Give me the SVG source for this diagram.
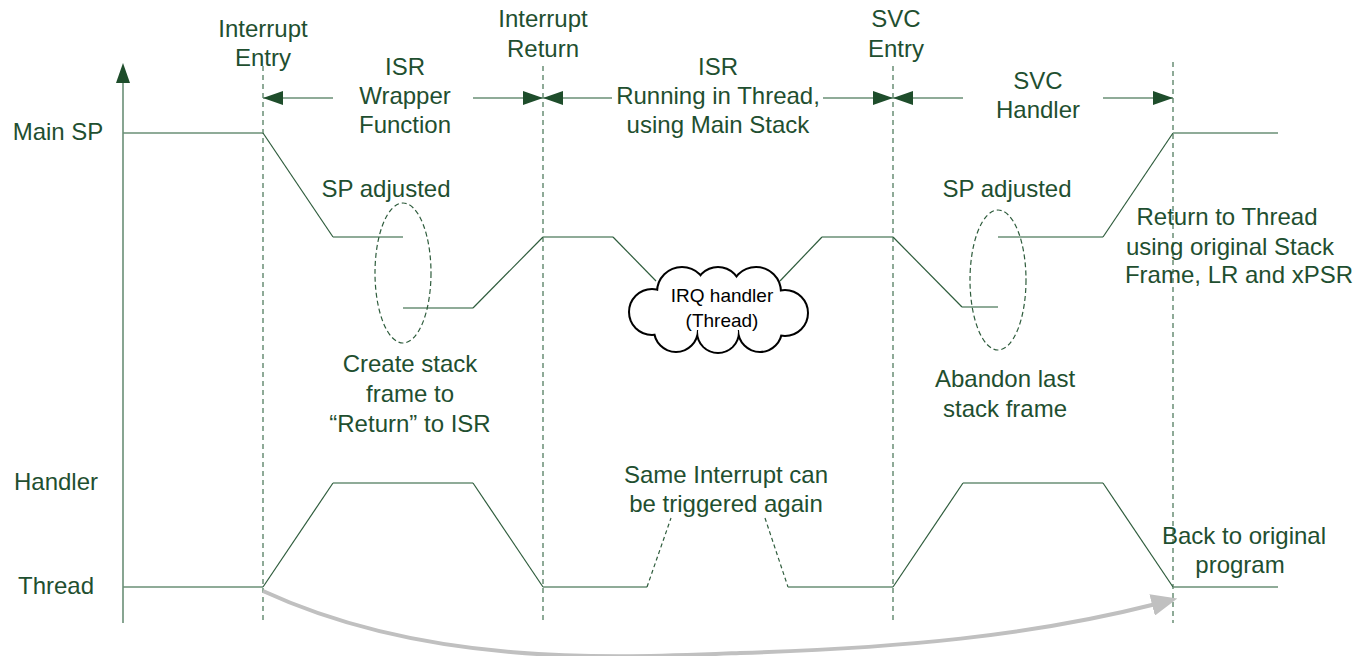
<svg xmlns="http://www.w3.org/2000/svg" width="1365" height="656" viewBox="0 0 1365 656">
<style>
text{font-family:"Liberation Sans",Arial,sans-serif;font-size:24px;fill:#1f4f30;text-anchor:middle}
.small{font-size:19px;fill:#000}
.h{stroke:#6a8f76;stroke-width:1.6;fill:none}
.d{stroke:#2e5c3c;stroke-width:1.2;fill:none}
.vd{stroke:#6a8f76;stroke-width:1.5;stroke-dasharray:5 4;fill:none}
.dd{stroke:#2e5c3c;stroke-width:1.2;stroke-dasharray:4 3;fill:none}
.ell{stroke:#2e5c3c;stroke-width:1.2;stroke-dasharray:5 3;fill:none}
.arr{stroke:#6a8f76;stroke-width:1.6;fill:none;marker-end:url(#ah)}
</style>
<defs>
<marker id="ah" markerUnits="userSpaceOnUse" markerWidth="20" markerHeight="14" refX="20" refY="7" orient="auto"><path d="M0,0 L20,7 L0,14 z" fill="#1e4d2b"/></marker>
<marker id="gh" markerUnits="userSpaceOnUse" markerWidth="26" markerHeight="22" refX="4" refY="11" orient="auto"><path d="M0,0 L26,11 L0,22 z" fill="#c0c0c0"/></marker>
</defs>
<rect width="1365" height="656" fill="#fff"/>

<g id="axis">
<line x1="123" y1="80" x2="123" y2="623" class="h"/>
<path d="M116,83 L123,63 L130,83 z" fill="#1e4d2b"/>
<text x="58" y="140">Main SP</text>
<text x="56" y="490">Handler</text>
<text x="56" y="594">Thread</text>
</g>

<g id="markers">
<line x1="263" y1="66" x2="263" y2="623" class="vd"/>
<line x1="543" y1="66" x2="543" y2="623" class="vd"/>
<line x1="893" y1="66" x2="893" y2="623" class="vd"/>
<line x1="1173" y1="62" x2="1173" y2="623" class="vd"/>
</g>

<g id="interrupt-entry"><text x="263" y="37">Interrupt</text><text x="263" y="66">Entry</text></g>
<g id="interrupt-return"><text x="543" y="27">Interrupt</text><text x="543" y="57">Return</text></g>
<g id="svc-entry"><text x="896" y="27">SVC</text><text x="896" y="57">Entry</text></g>
<g id="isr-wrapper"><text x="405" y="75">ISR</text><text x="405" y="104">Wrapper</text><text x="405" y="133">Function</text></g>
<g id="isr-thread"><text x="718" y="75">ISR</text><text x="718" y="104">Running in Thread,</text><text x="718" y="133">using Main Stack</text></g>
<g id="svc-handler"><text x="1038" y="89">SVC</text><text x="1038" y="118">Handler</text></g>

<g id="connectors">
<line x1="333" y1="98" x2="263" y2="98" class="arr"/>
<line x1="473" y1="98" x2="543" y2="98" class="arr"/>
<line x1="612" y1="98" x2="543" y2="98" class="arr"/>
<line x1="823" y1="98" x2="893" y2="98" class="arr"/>
<line x1="963" y1="98" x2="893" y2="98" class="arr"/>
<line x1="1103" y1="98" x2="1173" y2="98" class="arr"/>
<path d="M263,591 C430,668 620,658 740,653 C900,648 1030,636 1156,604" stroke="#c0c0c0" stroke-width="4" fill="none" marker-end="url(#gh)"/>
</g>

<g id="main-sp-trace">
<line x1="123" y1="133" x2="263" y2="133" class="h"/>
<line x1="263" y1="133" x2="333" y2="237" class="d"/>
<line x1="333" y1="237" x2="403" y2="237" class="h"/>
<line x1="403" y1="308" x2="473" y2="308" class="h"/>
<line x1="473" y1="308" x2="543" y2="237" class="d"/>
<line x1="543" y1="237" x2="613" y2="237" class="h"/>
<line x1="613" y1="237" x2="656" y2="281" class="d"/>
<line x1="780" y1="281" x2="822" y2="237" class="d"/>
<line x1="822" y1="237" x2="893" y2="237" class="h"/>
<line x1="893" y1="237" x2="962" y2="307" class="d"/>
<line x1="962" y1="307" x2="998" y2="307" class="h"/>
<line x1="998" y1="237" x2="1103" y2="237" class="h"/>
<line x1="1103" y1="237" x2="1173" y2="133" class="d"/>
<line x1="1173" y1="133" x2="1278" y2="133" class="h"/>
</g>

<g id="mode-trace">
<line x1="123" y1="587" x2="263" y2="587" class="h"/>
<line x1="263" y1="587" x2="333" y2="483" class="d"/>
<line x1="333" y1="483" x2="473" y2="483" class="h"/>
<line x1="473" y1="483" x2="543" y2="587" class="d"/>
<line x1="543" y1="587" x2="647" y2="587" class="h"/>
<line x1="647" y1="587" x2="671" y2="518" class="dd"/>
<line x1="765" y1="518" x2="788" y2="587" class="dd"/>
<line x1="788" y1="587" x2="893" y2="587" class="h"/>
<line x1="893" y1="587" x2="963" y2="483" class="d"/>
<line x1="963" y1="483" x2="1103" y2="483" class="h"/>
<line x1="1103" y1="483" x2="1173" y2="587" class="d"/>
<line x1="1173" y1="587" x2="1278" y2="587" class="h"/>
</g>

<g id="sp-adjusted-1">
<ellipse cx="403" cy="273" rx="28" ry="70" class="ell"/>
<text x="386" y="197">SP adjusted</text>
<text x="410" y="372">Create stack</text>
<text x="410" y="402">frame to</text>
<text x="410" y="432">“Return” to ISR</text>
</g>

<g id="sp-adjusted-2">
<ellipse cx="998" cy="280" rx="28" ry="70" class="ell"/>
<text x="1007" y="197">SP adjusted</text>
<text x="1005" y="387">Abandon last</text>
<text x="1005" y="417">stack frame</text>
</g>

<g id="irq-cloud">
<g stroke="#000" stroke-width="4" fill="#000">
<circle cx="652" cy="312" r="22"/><circle cx="682" cy="292" r="24"/><circle cx="718" cy="290" r="22"/><circle cx="756" cy="292" r="24"/><circle cx="785" cy="313" r="22"/><circle cx="760" cy="330" r="21"/><circle cx="718" cy="332" r="20"/><circle cx="676" cy="330" r="21"/>
</g>
<g fill="#fff">
<circle cx="652" cy="312" r="22"/><circle cx="682" cy="292" r="24"/><circle cx="718" cy="290" r="22"/><circle cx="756" cy="292" r="24"/><circle cx="785" cy="313" r="22"/><circle cx="760" cy="330" r="21"/><circle cx="718" cy="332" r="20"/><circle cx="676" cy="330" r="21"/>
<rect x="660" y="295" width="120" height="35"/>
</g>
<text class="small" x="722" y="302">IRQ handler</text>
<text class="small" x="722" y="327">(Thread)</text>
</g>

<g id="return-to-thread">
<text x="1227" y="225">Return to Thread</text>
<text x="1230" y="255">using original Stack</text>
<text x="1239" y="283">Frame, LR and xPSR</text>
</g>

<g id="same-interrupt">
<text x="726" y="483">Same Interrupt can</text>
<text x="726" y="512">be triggered again</text>
</g>

<g id="back-to-original">
<text x="1244" y="544">Back to original</text>
<text x="1240" y="573">program</text>
</g>
</svg>
